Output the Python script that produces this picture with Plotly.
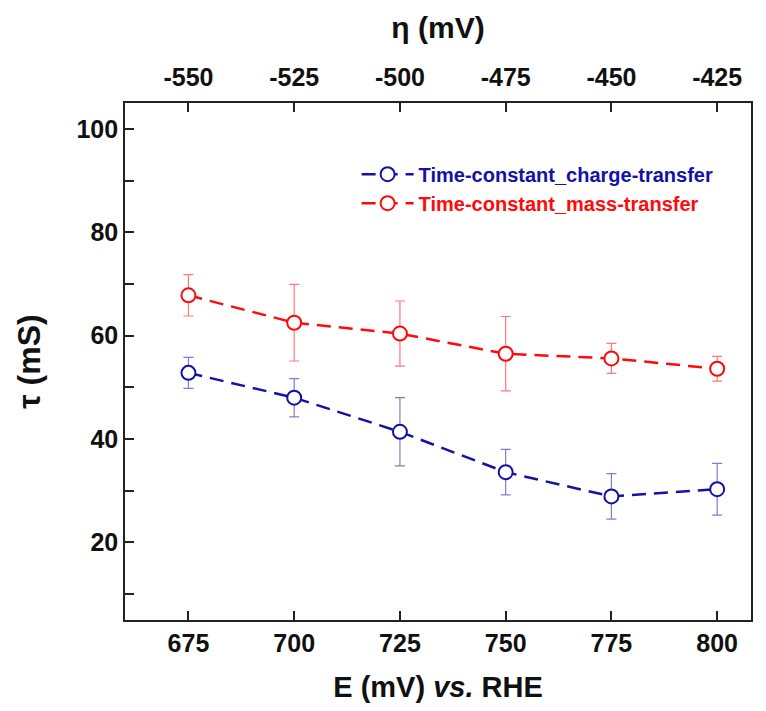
import plotly.graph_objects as go

# ---- data ----
E_mV = [675, 700, 725, 750, 775, 800]
tau_ct = [52.8, 48.0, 41.4, 33.6, 28.9, 30.3]
tau_ct_err = [3.0, 3.7, 6.6, 4.4, 4.4, 5.0]
tau_mt = [67.8, 62.5, 60.4, 56.5, 55.6, 53.6]
tau_mt_err = [4.0, 7.4, 6.3, 7.2, 2.9, 2.4]
eta_ticks = [-550, -525, -500, -475, -450, -425]
eta_labels = ["-550", "-525", "-500", "-475", "-450", "-425"]
E_offset = 1225  # eta = E - 1225
names = ["Time-constant_charge-transfer", "Time-constant_mass-transfer"]

BLUE = "#1212a6"
RED = "#ff0a0a"
FONT = "Liberation Sans, Arial, sans-serif"

x_range = [660, 808]
y_range = [5, 105]

fig = go.Figure()

def add_series(y, err, color, err_color, name):
    fig.add_trace(go.Scatter(
        x=E_mV, y=y, mode="lines+markers",
        name=f"<b><span style='color:{color}'>{name}</span></b>",
        line=dict(color=color, width=2.5, dash="14px,8px"),
        marker=dict(symbol="circle", size=14, color="white",
                    line=dict(color=color, width=2)),
        error_y=dict(type="data", array=err, visible=True,
                     color=err_color, thickness=1.2, width=5),
    ))

add_series(tau_ct, tau_ct_err, BLUE, "rgba(18,18,166,0.55)", names[0])
add_series(tau_mt, tau_mt_err, RED, "rgba(255,10,10,0.55)", names[1])

# dummy trace to anchor the top (eta) axis
fig.add_trace(go.Scatter(x=eta_ticks, y=[None] * len(eta_ticks), xaxis="x2",
                         yaxis="y", showlegend=False, hoverinfo="skip",
                         mode="markers"))

axis_common = dict(showgrid=False, zeroline=False, showline=True,
                   linecolor="#222", linewidth=1.6, ticks="inside",
                   ticklen=9, tickwidth=1.6, tickcolor="#222",
                   tickfont=dict(family=FONT, size=25, color="#111", weight="bold"))

fig.update_layout(
    width=766, height=711,
    margin=dict(l=125, r=15, t=103, b=91),
    paper_bgcolor="white", plot_bgcolor="white",
    font=dict(family=FONT, color="#111"),
    xaxis=dict(range=x_range, tickvals=E_mV, **axis_common,
               title=dict(text="<b>E (mV) <i>vs.</i> RHE</b>",
                          font=dict(family=FONT, size=29, color="#111"),
                          standoff=21)),
    xaxis2=dict(range=[x_range[0] - E_offset, x_range[1] - E_offset],
                overlaying="x", side="top", anchor="y",
                tickvals=eta_ticks, ticktext=eta_labels, **axis_common,
                ticklabelstandoff=5,
                title=dict(text="<b>η (mV)</b>",
                           font=dict(family=FONT, size=30, color="#111"),
                           standoff=16)),
    yaxis=dict(range=y_range, tickvals=[20, 40, 60, 80, 100], mirror=True,
               **axis_common,
               minor=dict(tickvals=[10, 30, 50, 70, 90], ticks="inside",
                          ticklen=9, tickwidth=1.6, tickcolor="#222"),
               title=dict(text="<b>τ (mS)</b>",
                          font=dict(family=FONT, size=32, color="#111"),
                          standoff=26)),
    legend=dict(x=0.37, y=0.90, xanchor="left", yanchor="top",
                bgcolor="rgba(0,0,0,0)",
                font=dict(family=FONT, size=20), tracegroupgap=0,
                itemwidth=52),
    showlegend=True,
)

fig.write_html("out.html")
